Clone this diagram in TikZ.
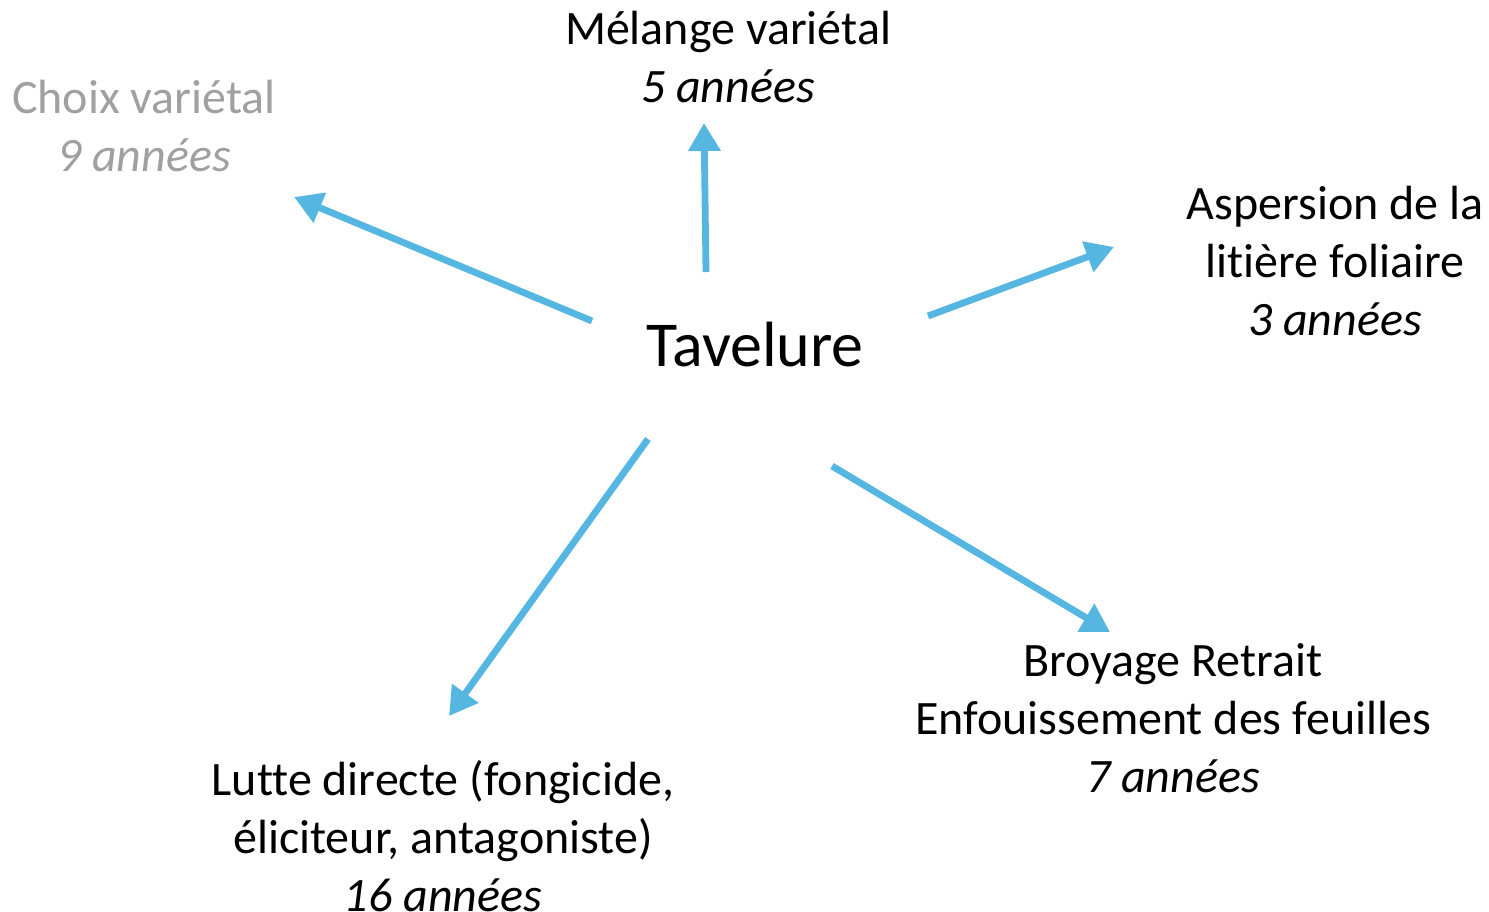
\documentclass[tikz,border=0pt]{standalone}
\usepackage{fontspec}
\setmainfont[Ligatures={NoCommon,NoContextual}]{Carlito}
\usetikzlibrary{arrows.meta}
\usetikzlibrary{positioning}
\definecolor{bleuclair}{RGB}{86,182,226}
\definecolor{grisclair}{RGB}{160,160,160}
\tikzset{%
  etiquette/.style={align=center, font=\fontsize{24}{29}\selectfont, inner sep=0pt},% treatment labels
  grise/.style={etiquette, text=grisclair},% grey label
  fleche/.style={draw=bleuclair, line width=3.4pt,
    -{Triangle[length=14pt, width=15.5pt]}}% blue arrows
}
\begin{document}
\begin{tikzpicture}[x=0.5pt, y=-0.5pt]
  \useasboundingbox (0,0) rectangle (1489,911);
  % Central node:
  \node[font=\fontsize{32}{38}\selectfont, inner sep=0pt] (tav) at (755,345) {Tavelure};
  % The five treatments:
  \node[etiquette] (melange) at (728,57) {Mélange variétal\\\textit{5 années}};
  \node[grise] (choix) at (144,126) {Choix variétal\\\textit{9 années}};
  \node[etiquette] (aspersion) at (1335,261) {Aspersion de la\\litière foliaire\\\textit{3 années}};
  \node[etiquette] (broyage) at (1173,718) {Broyage Retrait\\Enfouissement des feuilles\\\textit{7 années}};
  \node[etiquette] (lutte) at (443,836) {Lutte directe (fongicide,\\éliciteur, antagoniste)\\\textit{16 années}};
  % Arrow ends:
  \coordinate (d1) at (706,272);  \coordinate (f1) at (704,123);
  \coordinate (d2) at (592,321);  \coordinate (f2) at (294,197);
  \coordinate (d3) at (928,316);  \coordinate (f3) at (1114,247);
  \coordinate (d4) at (832,466);  \coordinate (f4) at (1110,632);
  \coordinate (d5) at (648,439);  \coordinate (f5) at (449,716);
  % Arrows from the centre towards each treatment:
  \draw[fleche] (d1) -- (f1);
  \draw[fleche] (d2) -- (f2);
  \draw[fleche] (d3) -- (f3);
  \draw[fleche] (d4) -- (f4);
  \draw[fleche] (d5) -- (f5);
\end{tikzpicture}
\end{document}
